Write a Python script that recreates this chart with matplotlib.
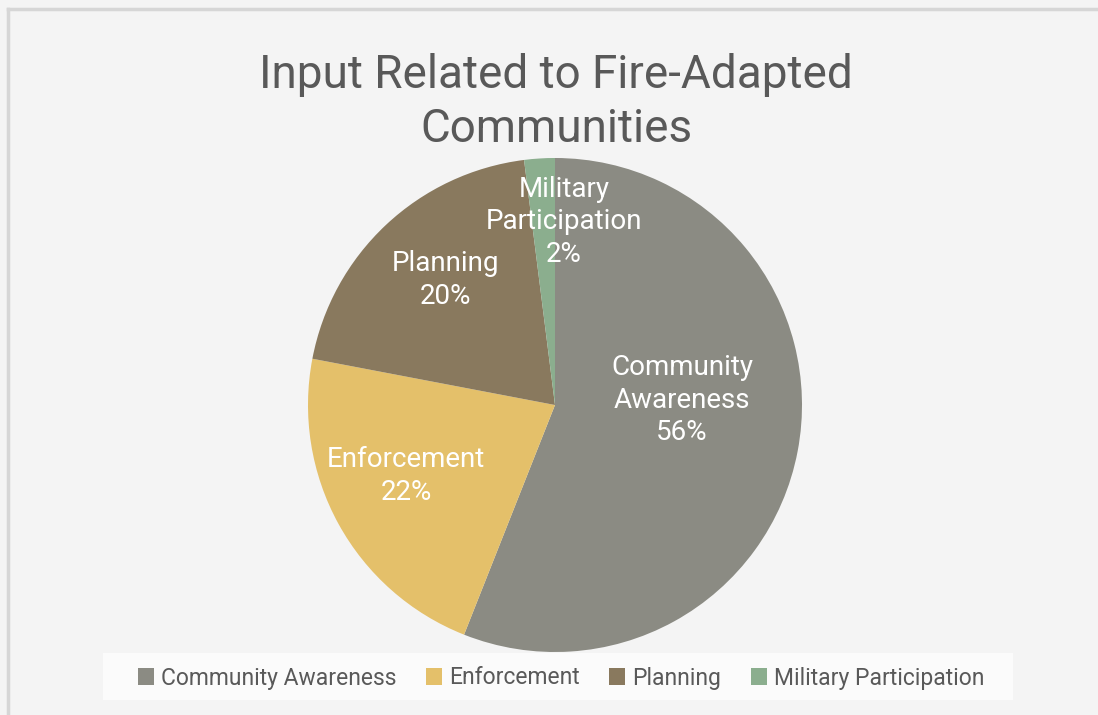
import matplotlib
matplotlib.use("Agg")
import matplotlib.pyplot as plt
from matplotlib.patches import Patch, Rectangle
from matplotlib.lines import Line2D

categories = ["Community Awareness", "Enforcement", "Planning", "Military Participation"]
shares = [56, 22, 20, 2]
pie_labels = ["Community\nAwareness\n56%", "Enforcement\n22%", "Planning\n20%", "Military\nParticipation\n2%"]
colors = ["#8B8B83", "#E4C06A", "#89795E", "#8BAE8E"]
title = "Input Related to Fire-Adapted\nCommunities"

# label centres in pie units (radius = 1)
label_pos = [(0.514, 0.02), (-0.603, -0.287), (-0.445, 0.506), (0.036, 0.741)]

plt.rcParams['font.family'] = ['Roboto', 'DejaVu Sans']
W, H = 1098, 715
fig = plt.figure(figsize=(W / 100, H / 100), dpi=100, facecolor="#F4F4F4")

# outer chart border (only top/left visible)
fig.add_artist(Line2D([8 / W, 8 / W], [0, 1 - 9 / H], color="#D6D6D6", lw=2.5, transform=fig.transFigure))
fig.add_artist(Line2D([8 / W, 1], [1 - 9 / H, 1 - 9 / H], color="#D6D6D6", lw=2.5, transform=fig.transFigure))

cx, cy, r = 555, 405, 247
ax = fig.add_axes([(cx - r) / W, (H - cy - r) / H, 2 * r / W, 2 * r / H])
ax.pie(shares, colors=colors, startangle=90, counterclock=False, radius=1,
       wedgeprops=dict(linewidth=0))
ax.set_xlim(-1, 1)
ax.set_ylim(-1, 1)
ax.set_aspect('equal')
ax.axis('off')

for txt, (x, y) in zip(pie_labels, label_pos):
    ax.text(x, y, txt, ha='center', va='center', color='white', fontsize=20,
            linespacing=1.28)

fig.text(556 / W, 1 - 102 / H, title, ha='center', va='center', fontsize=33,
         color='#595959', linespacing=1.28)

# legend box
fig.add_artist(Rectangle((103 / W, 1 - 700 / H), (1013 - 103) / W, 47 / H,
                         transform=fig.transFigure, facecolor="#FBFBFB", edgecolor='none'))
handles = [Patch(facecolor=c, edgecolor='none') for c in colors]
fig.legend(handles, categories, loc='center', bbox_to_anchor=(561 / W, 1 - 678 / H),
           ncol=4, frameon=False, fontsize=16.5, labelcolor='#595959',
           handlelength=0.7, handleheight=0.7, handletextpad=0.3, columnspacing=1.3)

fig.savefig("out.png", dpi=100, facecolor=fig.get_facecolor())
